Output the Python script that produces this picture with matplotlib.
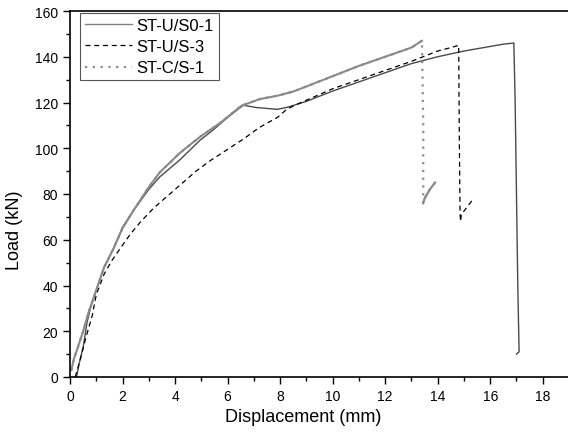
import numpy as np
import matplotlib
matplotlib.use("Agg")
import matplotlib.pyplot as plt
from matplotlib.ticker import MultipleLocator

plt.rcParams['font.family'] = ['Liberation Sans', 'DejaVu Sans']

# ST-U/S0-1 (solid)
x_s0 = [0.25, 0.35, 0.5, 0.65, 0.8, 1.0, 1.3, 1.65, 2.0, 2.4, 3.0, 3.42, 4.19, 4.95, 5.45,
        6.0, 6.6, 7.1, 7.9, 8.3, 9.0, 10.0, 11.0, 12.0, 13.0, 14.0, 15.0, 16.0, 16.5,
        16.9, 16.95, 17.0, 17.05, 17.1, 17.0]
y_s0 = [0, 6, 13, 24, 31, 38, 48, 56, 65.5, 72.5, 82, 87.5, 95, 103.5, 108,
        113.5, 118.8, 117.8, 117, 118, 120.5, 125, 129, 133, 137, 140, 142.5, 144.5, 145.5,
        146, 120, 80, 40, 11, 10]

# ST-U/S-3 (dashed)
x_s3 = [0.2, 0.4, 0.6, 0.85, 1.0, 1.3, 1.6, 1.9, 2.3, 2.7, 3.2, 3.8, 4.3, 4.8, 5.33, 6.0,
        6.6, 7.2, 7.9, 8.25, 8.6, 9.0, 10.0, 11.0, 12.0, 13.0, 14.0, 14.5, 14.8, 14.82, 14.85,
        14.87, 14.9, 15.1, 15.3]
y_s3 = [0, 8, 17, 27, 36, 45, 51, 56, 62.5, 68, 74, 80, 85, 90, 94.5, 99.5,
        104, 109, 113.5, 117, 119, 121, 126, 130, 134, 138, 142.5, 144, 145, 110, 72,
        68, 71, 74, 77]

# ST-C/S-1 (dotted)
x_c1 = [0.05, 0.15, 0.3, 0.5, 0.7, 1.0, 1.3, 1.65, 2.0, 2.4, 3.0, 3.42, 4.19, 4.95, 5.71,
        6.53, 7.23, 7.91, 8.5, 9.0, 10.0, 11.0, 12.0, 13.0, 13.4, 13.45, 13.45,
        13.5, 13.7, 13.9]
y_c1 = [3, 8, 13, 20, 28, 38, 48, 56, 65, 72.5, 83, 89.5, 98, 105, 111,
        118.6, 121.5, 123, 124.8, 127, 131.5, 136, 140, 144, 147, 110, 76,
        78, 82, 85]
c1_peak = 25   # failure point index
c1_after = 26  # start of post-failure rebound

fig = plt.figure(figsize=(5.68, 4.35), dpi=100)
ax = fig.add_axes([70 / 568, 57 / 435, 499 / 568, 366 / 435])

ax.plot(x_s0, y_s0, color='#4a4a4a', lw=1.0, label='ST-U/S0-1')
ax.plot(x_s3, y_s3, color='black', lw=0.9, ls=(0, (4, 3)), label='ST-U/S-3')
ax.plot(x_c1, y_c1, color='#8a8a8a', lw=1.6, ls=(0, (1, 2.5)), label='ST-C/S-1')
# dense test data makes the dotted trace look continuous before and after the drop
ax.plot(x_c1[:c1_peak], y_c1[:c1_peak], color='#8a8a8a', lw=1.5)
ax.plot(x_c1[c1_after:], y_c1[c1_after:], color='#8a8a8a', lw=1.6)

ax.set_xlim(0, 19)
ax.set_ylim(0, 160)
ax.xaxis.set_major_locator(MultipleLocator(2))
ax.xaxis.set_minor_locator(MultipleLocator(1))
ax.yaxis.set_major_locator(MultipleLocator(20))
ax.yaxis.set_minor_locator(MultipleLocator(10))
ax.tick_params(which='major', direction='out', length=5, width=1, labelsize=10)
ax.tick_params(which='minor', direction='out', length=3, width=1)
ax.spines['right'].set_visible(False)
for s in ['left', 'bottom', 'top']:
    ax.spines[s].set_linewidth(1.2)

ax.set_xlabel('Displacement (mm)', fontsize=13)
ax.set_ylabel('Load (kN)', fontsize=13)
ax.xaxis.set_label_coords(0.467, -0.085)
ax.yaxis.set_label_coords(-0.094, 0.404)

leg = ax.legend(loc='upper left', bbox_to_anchor=(0.02, 0.995), fontsize=12,
                frameon=True, fancybox=False, edgecolor='#555555', framealpha=1,
                handlelength=2.8, handletextpad=0.3, borderpad=0.3, labelspacing=0.38,
                borderaxespad=0)
leg.get_frame().set_linewidth(0.8)
leg.legend_handles[0].set_color('#808080')

fig.savefig('out.png', dpi=100)
